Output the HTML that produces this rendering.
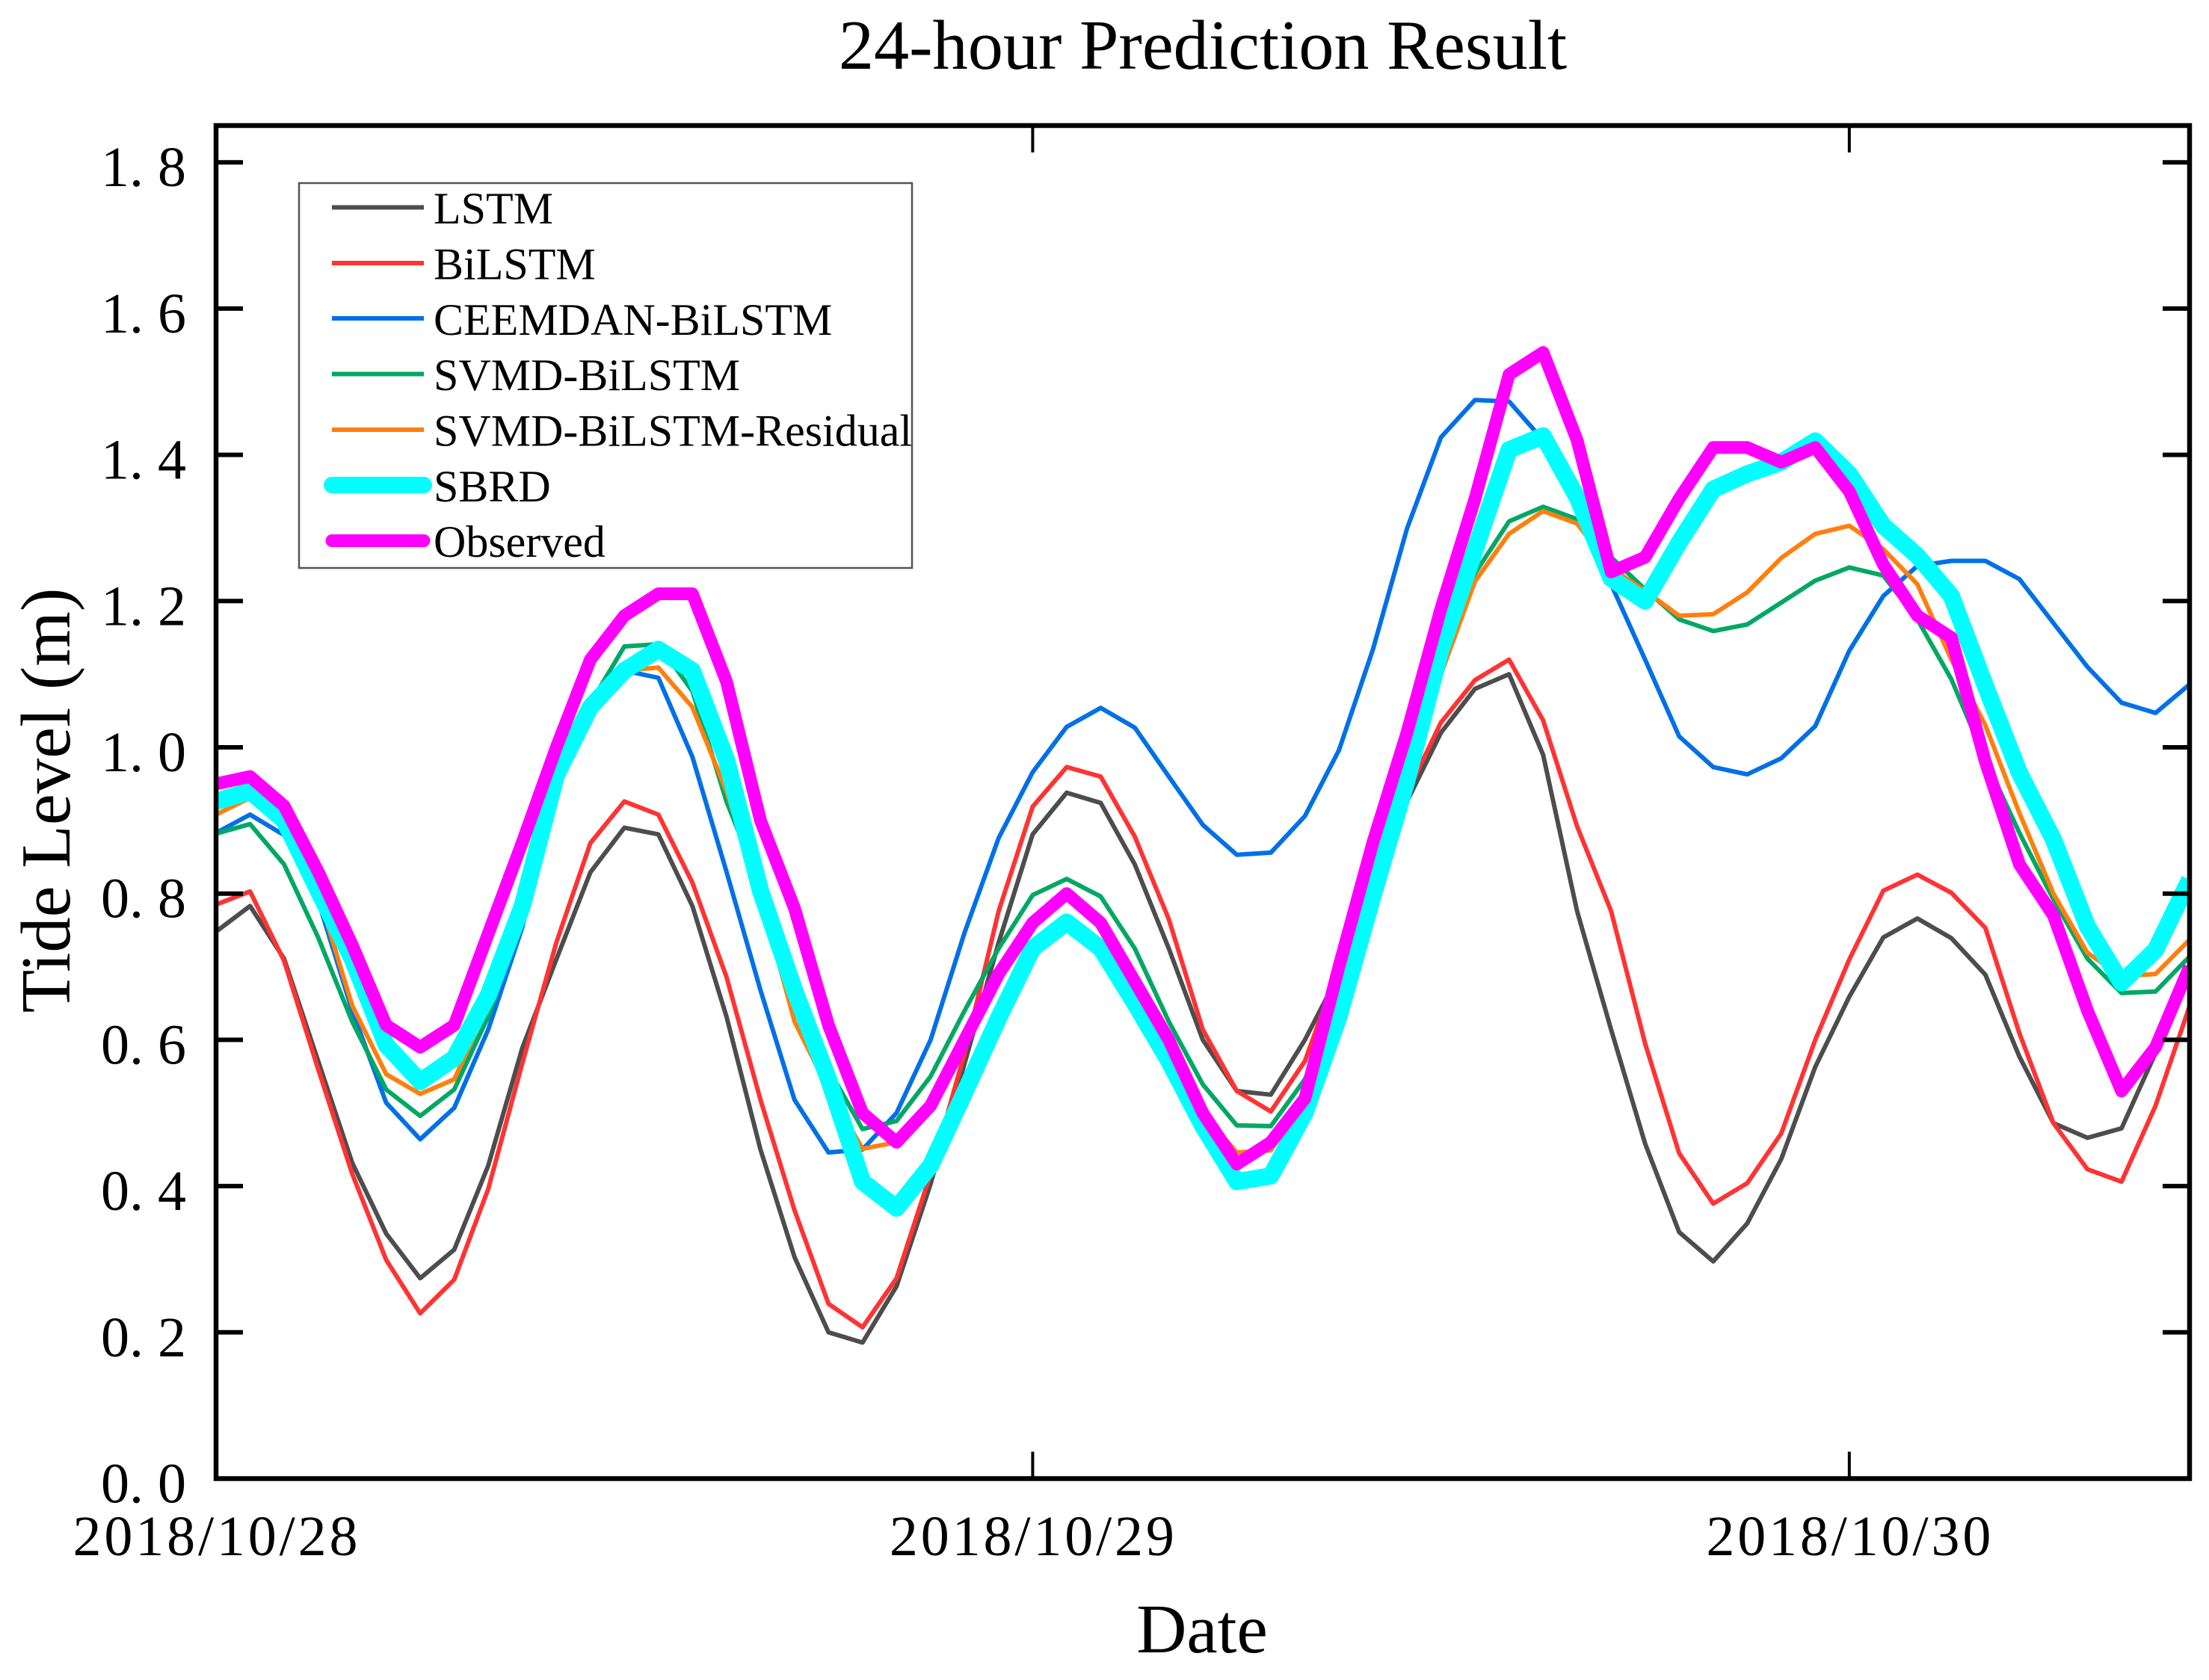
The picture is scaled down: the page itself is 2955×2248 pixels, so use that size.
<!DOCTYPE html>
<html lang="en">
<head>
<meta charset="utf-8">
<title>24-hour Prediction Result</title>
<style>
html,body{margin:0;padding:0;background:#fff;}
svg{display:block;}
text{font-family:"Liberation Serif",serif;fill:#000;}
</style>
</head>
<body>
<svg id="chart" xmlns="http://www.w3.org/2000/svg" width="2955" height="2248" viewBox="0 0 2955 2248">
  <rect x="0" y="0" width="2955" height="2248" fill="#fff"/>
  <defs>
    <clipPath id="plot-clip"><rect x="289" y="168" width="2640" height="1811"/></clipPath>
  </defs>
  <text x="1609" y="92" font-size="94.3" text-anchor="middle">24-hour Prediction Result</text>
  <text x="1608" y="2211" font-size="93" text-anchor="middle">Date</text>
  <text transform="translate(93,1071) rotate(-90)" font-size="94.5" text-anchor="middle">Tide Level (m)</text>
  <g id="series-layer" clip-path="url(#plot-clip)" fill="none" stroke-linejoin="round"></g>
  <g id="axis-layer"></g>
  <g id="legend">
    <rect x="400" y="245" width="820" height="515" fill="none" stroke="#555" stroke-width="2.5"/>
    <line x1="444" x2="567" y1="277.5" y2="277.5" stroke="#4d4d4d" stroke-width="6"/>
    <text x="580" y="299" font-size="60">LSTM</text>
    <line x1="444" x2="567" y1="352" y2="352" stroke="#ff3333" stroke-width="6"/>
    <text x="580" y="373.5" font-size="60">BiLSTM</text>
    <line x1="444" x2="567" y1="426" y2="426" stroke="#0070e8" stroke-width="6"/>
    <text x="580" y="448" font-size="60">CEEMDAN-BiLSTM</text>
    <line x1="444" x2="567" y1="500.5" y2="500.5" stroke="#00a864" stroke-width="6"/>
    <text x="580" y="522" font-size="60">SVMD-BiLSTM</text>
    <line x1="444" x2="567" y1="575" y2="575" stroke="#ff7f0e" stroke-width="6"/>
    <text x="580" y="596.5" font-size="60">SVMD-BiLSTM-Residual</text>
    <line x1="444" x2="567" y1="649" y2="649" stroke="#00ffff" stroke-width="22" stroke-linecap="round"/>
    <text x="580" y="671" font-size="60">SBRD</text>
    <line x1="444" x2="567" y1="723.5" y2="723.5" stroke="#ff00ff" stroke-width="17" stroke-linecap="round"/>
    <text x="580" y="745" font-size="60">Observed</text>
  </g>
</svg>
<script>
var hours = [0,1,2,3,4,5,6,7,8,9,10,11,12,13,14,15,16,17,18,19,20,21,22,23,24,25,26,27,28,29,30,31,32,33,34,35,36,37,38,39,40,41,42,43,44,45,46,47,48,49,50,51,52,53,54,55,56,57,58];
var lstm = [.748,.783,.711,.571,.432,.335,.274,.313,.428,.589,.71,.829,.89,.881,.783,.632,.45,.303,.2,.186,.263,.403,.568,.733,.881,.938,.924,.84,.725,.60,.53,.525,.60,.69,.783,.926,1.02,1.08,1.10,.99,.776,.614,.458,.337,.297,.349,.437,.563,.659,.74,.766,.739,.689,.577,.486,.466,.479,.582,.70];
var bilstm = [.785,.803,.708,.56,.417,.299,.226,.272,.396,.568,.733,.869,.926,.908,.815,.686,.518,.367,.239,.207,.274,.417,.582,.776,.919,.973,.96,.878,.765,.614,.53,.502,.571,.70,.82,.937,1.034,1.092,1.12,1.037,.892,.776,.595,.445,.376,.404,.472,.60,.71,.804,.826,.801,.753,.609,.486,.423,.406,.51,.646];
var ceemdanBilstm = [.883,.908,.88,.79,.64,.514,.464,.507,.614,.754,.96,1.05,1.105,1.095,.987,.83,.668,.518,.446,.45,.50,.60,.747,.876,.966,1.028,1.054,1.027,.96,.894,.853,.856,.906,.996,1.134,1.299,1.424,1.475,1.473,1.42,1.33,1.223,1.12,1.015,.973,.963,.985,1.029,1.132,1.207,1.248,1.255,1.255,1.23,1.17,1.11,1.061,1.047,1.086];
var svmdBilstm = [.882,.895,.84,.74,.625,.532,.496,.532,.632,.768,.95,1.06,1.138,1.141,1.077,.926,.81,.66,.56,.478,.489,.55,.64,.725,.798,.82,.796,.725,.625,.539,.483,.482,.546,.66,.82,.96,1.10,1.238,1.309,1.329,1.312,1.26,1.216,1.175,1.159,1.168,1.198,1.228,1.246,1.235,1.175,1.093,.983,.883,.792,.711,.664,.666,.714];
var svmdResidual = [.908,.931,.89,.80,.647,.553,.526,.546,.647,.776,.95,1.05,1.105,1.109,1.055,.94,.797,.625,.532,.451,.46,.518,.604,.70,.754,.794,.755,.683,.60,.50,.446,.449,.53,.66,.82,.95,1.10,1.227,1.292,1.323,1.306,1.245,1.214,1.18,1.182,1.212,1.259,1.292,1.303,1.271,1.223,1.12,1.03,.91,.80,.719,.687,.69,.737];
var sbrd = [.926,.94,.90,.804,.711,.593,.543,.575,.661,.783,.962,1.055,1.105,1.134,1.105,.983,.804,.668,.546,.406,.37,.428,.528,.63,.725,.761,.725,.65,.571,.482,.406,.414,.50,.632,.797,.955,1.134,1.27,1.407,1.426,1.342,1.231,1.20,1.28,1.353,1.374,1.39,1.419,1.374,1.303,1.262,1.207,1.084,.965,.874,.755,.678,.723,.819];
var observed = [.95,.96,.92,.83,.73,.62,.59,.62,.745,.87,1.0,1.12,1.18,1.21,1.21,1.09,.90,.78,.62,.50,.46,.51,.60,.69,.76,.80,.76,.68,.60,.50,.43,.46,.52,.70,.87,1.02,1.19,1.34,1.51,1.54,1.42,1.24,1.26,1.34,1.41,1.41,1.39,1.41,1.35,1.25,1.18,1.15,.98,.84,.77,.64,.53,.59,.70];
var yTickValues = [0,0.2,0.4,0.6,0.8,1.0,1.2,1.4,1.6,1.8];
var yTickLabels = ["0. 0","0. 2","0. 4","0. 6","0. 8","1. 0","1. 2","1. 4","1. 6","1. 8"];
var xTickValues = [0,24,48];
var xTickLabels = ["2018/10/28","2018/10/29","2018/10/30"];

var NS = "http://www.w3.org/2000/svg";
var PLOT_LEFT = 289, PLOT_RIGHT = 2929, PLOT_TOP = 168, PLOT_BOTTOM = 1978.5;
var X_MIN = 0, X_MAX = 58, Y_UNIT = 978.5;

function xScale(h) { return PLOT_LEFT + (h - X_MIN) * (PLOT_RIGHT - PLOT_LEFT) / (X_MAX - X_MIN); }
function yScale(v) { return PLOT_BOTTOM - v * Y_UNIT; }

var seriesLayer = document.getElementById("series-layer");
var axisLayer = document.getElementById("axis-layer");

function drawSeries(values, name, color, width) {
  var pts = values.map(function (v, i) { return xScale(hours[i]).toFixed(1) + "," + yScale(v).toFixed(1); }).join(" ");
  var line = document.createElementNS(NS, "polyline");
  line.setAttribute("points", pts);
  line.setAttribute("stroke", color);
  line.setAttribute("stroke-width", width);
  
  
  seriesLayer.appendChild(line);
}
drawSeries(lstm, "series-lstm", "#4d4d4d", 6);
drawSeries(bilstm, "series-bilstm", "#ff3333", 6);
drawSeries(ceemdanBilstm, "series-ceemdan-bilstm", "#0070e8", 6);
drawSeries(svmdBilstm, "series-svmd-bilstm", "#00a864", 6);
drawSeries(svmdResidual, "series-svmd-bilstm-residual", "#ff7f0e", 6);
drawSeries(sbrd, "series-sbrd", "#00ffff", 23);
drawSeries(observed, "series-observed", "#ff00ff", 17);

function drawTick(x1, y1, x2, y2, width, name) {
  var t = document.createElementNS(NS, "line");
  t.setAttribute("x1", x1);
  t.setAttribute("y1", y1);
  t.setAttribute("x2", x2);
  t.setAttribute("y2", y2);
  t.setAttribute("stroke", "#000");
  t.setAttribute("stroke-width", width);
  
  
  axisLayer.appendChild(t);
}

yTickValues.forEach(function (v, i) {
  var y = yScale(v);
  if (v > 0) {
    drawTick(PLOT_LEFT, y, PLOT_LEFT + 36, y, 6, "y-tick-left");
    drawTick(PLOT_RIGHT, y, PLOT_RIGHT - 36, y, 6, "y-tick-right");
  }
  var label = document.createElementNS(NS, "text");
  label.setAttribute("x", 249);
  label.setAttribute("y", y + 32);
  label.setAttribute("font-size", 76);
  label.setAttribute("text-anchor", "end");
  label.setAttribute("xml:space", "preserve");
  label.textContent = yTickLabels[i];
  
  
  axisLayer.appendChild(label);
});

xTickValues.forEach(function (h, i) {
  var x = xScale(h);
  if (h > 0) {
    drawTick(x, PLOT_BOTTOM, x, PLOT_BOTTOM - 36, 4, "x-tick-bottom");
    drawTick(x, PLOT_TOP, x, PLOT_TOP + 36, 4, "x-tick-top");
  }
  var label = document.createElementNS(NS, "text");
  label.setAttribute("x", x - 1);
  label.setAttribute("y", 2081);
  label.setAttribute("font-size", 76);
  label.setAttribute("text-anchor", "middle");
  label.setAttribute("textLength", 381);
  label.setAttribute("lengthAdjust", "spacing");
  label.textContent = xTickLabels[i];
  
  
  axisLayer.appendChild(label);
});

var frame = document.createElementNS(NS, "rect");
frame.setAttribute("x", PLOT_LEFT);
frame.setAttribute("y", PLOT_TOP);
frame.setAttribute("width", PLOT_RIGHT - PLOT_LEFT);
frame.setAttribute("height", PLOT_BOTTOM - PLOT_TOP);
frame.setAttribute("fill", "none");
frame.setAttribute("stroke", "#000");
frame.setAttribute("stroke-width", 6.5);


axisLayer.appendChild(frame);
</script>
</body>
</html>
